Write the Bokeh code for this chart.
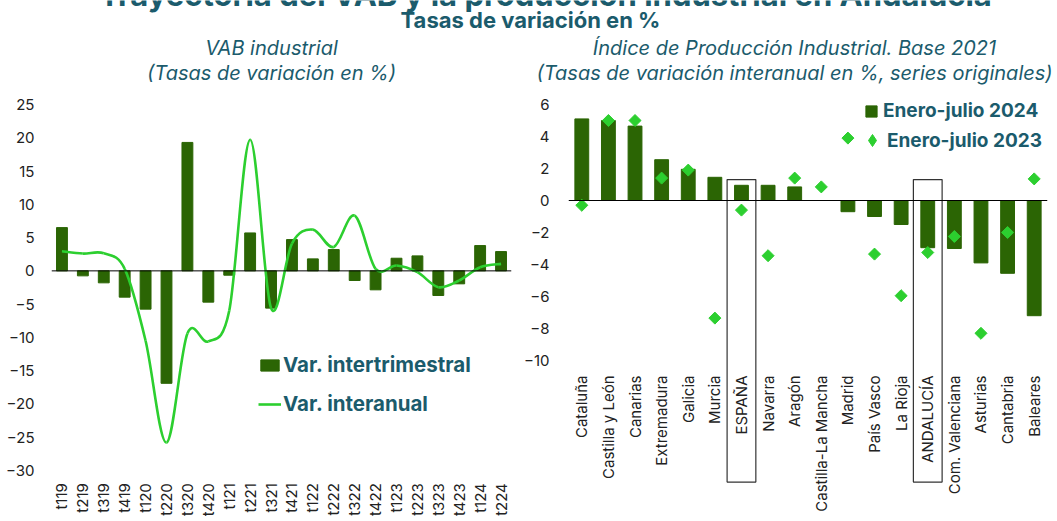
import math
from bokeh.plotting import figure
from bokeh.models import (Range1d, FixedTicker, Span, Legend, LegendItem,
                          FactorRange)
from bokeh.layouts import column, row
from bokeh.embed import file_html
from bokeh.resources import INLINE
from bokeh.core.properties import value

TEAL = "#1b5b6c"
DARK = "#2b6504"
LIGHT = "#2ccf2f"
TXT = "#222222"
FONT = "Inter"

# ---------------- data ----------------
main_title = "Trayectoria del VAB y la producción industrial en Andalucía"
subtitle = "Tasas de variación en %"
left_title = ["VAB industrial", "(Tasas de variación en %)"]
right_title = ["Índice de Producción Industrial. Base 2021",
               "(Tasas de variación interanual en %, series originales)"]

quarters = ["t119", "t219", "t319", "t419", "t120", "t220", "t320", "t420",
            "t121", "t221", "t321", "t421", "t122", "t222", "t322", "t422",
            "t123", "t223", "t323", "t423", "t124", "t224"]
var_intertrimestral = [6.5, -0.75, -1.8, -3.95, -5.75, -16.9, 19.3, -4.7,
                       -0.65, 5.7, -5.6, 4.7, 1.8, 3.2, -1.45, -2.85,
                       1.9, 2.25, -3.7, -1.95, 3.8, 2.9]
var_interanual = [2.95, 2.6, 2.65, 0.3, -10.5, -25.8, -9.4, -10.6,
                  -6.0, 19.7, -5.6, 4.1, 6.2, 3.6, 8.3, 0.3,
                  0.8, -0.2, -2.45, -1.45, 0.55, 1.05]

regions = ["Cataluña", "Castilla y León", "Canarias", "Extremadura", "Galicia",
           "Murcia", "ESPAÑA", "Navarra", "Aragón", "Castilla-La Mancha",
           "Madrid", "País Vasco", "La Rioja", "ANDALUCÍA", "Com. Valenciana",
           "Asturias", "Cantabria", "Baleares"]
enero_julio_2024 = [5.1, 5.0, 4.65, 2.55, 1.95, 1.45, 0.95, 0.95, 0.85, 0.0,
                    -0.7, -1.0, -1.5, -2.95, -3.0, -3.9, -4.55, -7.2]
enero_julio_2023 = [-0.3, 5.0, 5.0, 1.4, 1.9, -7.35, -0.6, -3.45, 1.4, 0.85,
                    3.9, -3.35, -5.95, -3.25, -2.25, -8.3, -2.0, 1.35]
highlighted = ["ESPAÑA", "ANDALUCÍA"]

# ---------------- header ----------------
header = figure(width=1057, height=95, x_range=Range1d(0, 1057),
                y_range=Range1d(95, 0), output_backend="svg",
                toolbar_location=None, x_axis_location=None,
                y_axis_location=None, min_border=0)
header.grid.visible = False
header.outline_line_color = None
header.text(x=[545], y=[-6], text=[main_title], text_font=value(FONT),
            text_font_size="31px", text_font_style="bold", text_color=TEAL,
            text_align="center", text_baseline="alphabetic")
header.text(x=[530], y=[19], text=[subtitle], text_font=value(FONT),
            text_font_size="22px", text_font_style="bold", text_color=TEAL,
            text_align="center", text_baseline="alphabetic")
header.text(x=[271, 271], y=[47, 72], text=left_title, text_font=value(FONT),
            text_font_size="20px", text_font_style="italic", text_color=TEAL,
            text_align="center", text_baseline="alphabetic")
header.text(x=[794, 794], y=[47, 72], text=right_title, text_font=value(FONT),
            text_font_size="20px", text_font_style="italic", text_color=TEAL,
            text_align="center", text_baseline="alphabetic")


def style_yaxis(p, standoff):
    ax = p.yaxis
    ax.axis_line_color = None
    ax.major_tick_line_color = None
    ax.minor_tick_line_color = None
    ax.major_tick_out = 0
    ax.major_tick_in = 0
    ax.major_label_text_font = FONT
    ax.major_label_text_font_size = "15px"
    ax.major_label_text_color = TXT
    ax.major_label_standoff = standoff


def legend_style(**kw):
    base = dict(border_line_color=None, background_fill_alpha=0, padding=0,
                margin=0, label_height=20, label_text_font=FONT,
                label_text_font_style="bold", label_text_color=TEAL,
                inactive_fill_alpha=0)
    base.update(kw)
    return base


# ---------------- left chart ----------------
# frame spans screen y 97..521; 25 -> 104, -30 -> 470
L_PX = 366 / 55.0
n = len(quarters)
xi = list(range(n))
p1 = figure(width=520, height=426, x_range=Range1d(-0.5, n - 0.5),
            y_range=Range1d(-30 - 51 / L_PX, 25 + 7 / L_PX),
            output_backend="svg", toolbar_location=None, x_axis_location=None,
            min_border_left=51, min_border_right=9,
            min_border_top=2, min_border_bottom=0)
p1.grid.visible = False
p1.outline_line_color = None
p1.yaxis.ticker = FixedTicker(ticks=list(range(-30, 26, 5)))
style_yaxis(p1, 17)

bars1 = p1.vbar(x=xi, top=var_intertrimestral, width=0.52, color=DARK)
p1.add_layout(Span(location=0, dimension="width", line_color="black",
                   line_width=1))

# smooth curve through the data points (cubic Bezier segments)
x0, y0, x1, y1, cx0, cy0, cx1, cy1 = ([] for _ in range(8))
for i in range(n - 1):
    im = max(i - 1, 0)
    ip = min(i + 2, n - 1)
    x0.append(xi[i]); y0.append(var_interanual[i])
    x1.append(xi[i + 1]); y1.append(var_interanual[i + 1])
    cx0.append(xi[i] + (xi[i + 1] - xi[im]) / 6)
    cy0.append(var_interanual[i] + (var_interanual[i + 1] - var_interanual[im]) / 6)
    cx1.append(xi[i + 1] - (xi[ip] - xi[i]) / 6)
    cy1.append(var_interanual[i + 1] - (var_interanual[ip] - var_interanual[i]) / 6)
curve = p1.bezier(x0=x0, y0=y0, x1=x1, y1=y1, cx0=cx0, cy0=cy0, cx1=cx1,
                  cy1=cy1, line_color=LIGHT, line_width=2.6)

# category labels under the plotted area
p1.text(x=xi, y=-30 - 12.7 / L_PX, text=quarters, angle=math.pi / 2,
        text_align="right", text_baseline="middle", text_font=value(FONT),
        text_font_size="15px", text_color=TXT)

leg1 = Legend(items=[LegendItem(label="Var. intertrimestral", renderers=[bars1]),
                     LegendItem(label="Var. interanual", renderers=[curve])],
              location=(207, 105), spacing=14, glyph_width=23,
              glyph_height=14, label_standoff=2,
              **legend_style(label_text_font_size="20.5px"))
p1.add_layout(leg1)

# ---------------- right chart ----------------
R_PX = 16.0  # 0 -> 200, frame 97..521
p2 = figure(width=537, height=426, x_range=FactorRange(*regions),
            y_range=Range1d(-321 / R_PX, 103 / R_PX), output_backend="svg",
            toolbar_location=None, x_axis_location=None,
            min_border_left=48, min_border_right=10, min_border_top=2,
            min_border_bottom=0)
p2.grid.visible = False
p2.outline_line_color = None
p2.yaxis.ticker = FixedTicker(ticks=list(range(-10, 7, 2)))
style_yaxis(p2, 19)

bars2 = p2.vbar(x=regions, top=enero_julio_2024, width=0.52, color=DARK)
p2.add_layout(Span(location=0, dimension="width", line_color="black",
                   line_width=1))
p2.scatter(x=regions, y=enero_julio_2023, marker="square",
           angle=math.pi / 4, size=8.5, color=LIGHT)
# diamond-shaped legend key for the 2023 series (hidden renderer, key only)
dots_key = p2.scatter(x=regions, y=enero_julio_2023, marker="diamond",
                      color=LIGHT, visible=False)
p2.vbar(x=highlighted, bottom=-17.6, top=1.31, width=1.08, fill_color=None,
        line_color="#333333", line_width=1.2)
p2.text(x=regions, y=-175 / R_PX, text=regions, angle=math.pi / 2,
        text_align="right", text_baseline="middle", text_font=value(FONT),
        text_font_size="15px", text_color=TXT)

leg2a = Legend(items=[LegendItem(label="Enero-julio 2024", renderers=[bars2])],
               location=(296, 399), glyph_width=14, glyph_height=14,
               label_standoff=5, **legend_style(label_text_font_size="19px"))
leg2b = Legend(items=[LegendItem(label="Enero-julio 2023", renderers=[dots_key])],
               location=(289, 366), glyph_width=30, glyph_height=30,
               label_standoff=-6, **legend_style(label_text_font_size="19px"))
p2.add_layout(leg2a)
p2.add_layout(leg2b)

layout = column(header, row(p1, p2))
open("out.html", "w").write(file_html(layout, INLINE))
